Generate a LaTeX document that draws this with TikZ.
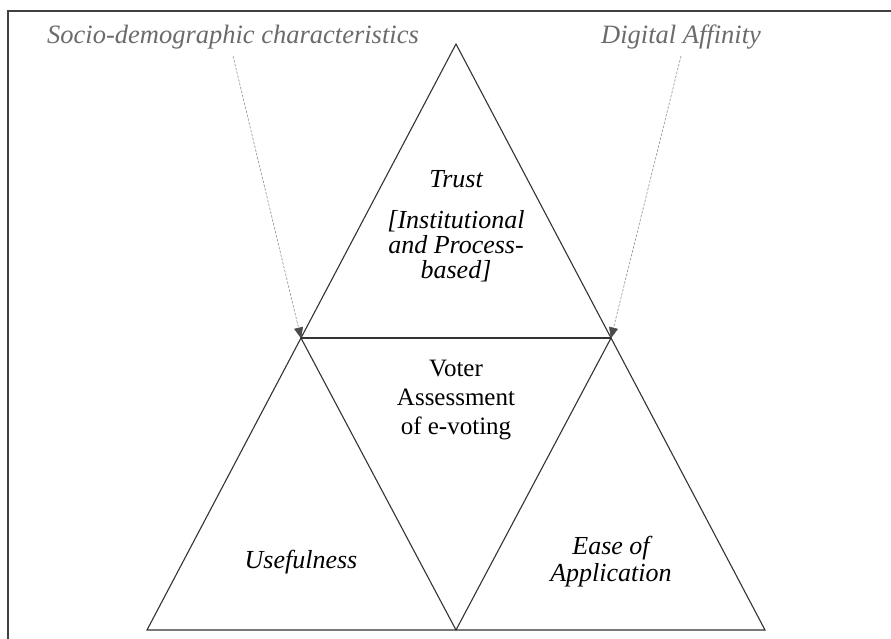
\documentclass[tikz,border=0pt]{standalone}
\usepackage{fontspec}
\setmainfont{Liberation Serif}
\usetikzlibrary{arrows.meta}
\begin{document}
\begin{tikzpicture}[x=1pt,y=-1pt,
  edge/.style={draw=black!80, line width=1.1pt, line join=miter, line cap=round},
  frame/.style={draw=black!75, line width=1.6pt},
  lbl/.style={text=black!58, font=\fontsize{26.5}{30}\selectfont\itshape, inner sep=0pt, anchor=base},
  txt/.style={font=\fontsize{25}{26}\selectfont, inner sep=0pt, anchor=base},
  itxt/.style={txt, font=\fontsize{26}{26}\selectfont\itshape},
  hint/.style={draw=black!45, line width=0.6pt, dash pattern=on 2.5pt off 1.5pt,
    -{Triangle[length=11pt,width=9pt,color=black!70,fill=black!70,sep=0pt]}, shorten >=-0.5pt}]

\useasboundingbox (0,0) rectangle (891,639);

% page frame (left and top rules)
\draw[frame] (8,639) -- (8,11) -- (891,11);

% vertices of the triangle arrangement
\coordinate (A)  at (456,44);
\coordinate (L)  at (301,338);
\coordinate (R)  at (611,338);
\coordinate (BL) at (147,630);
\coordinate (BM) at (456,630);
\coordinate (BR) at (765,630);

% outline and inner edges
\draw[edge] (BL) -- (A) -- (BR) -- cycle;
\draw[edge] (L) -- (R);
\draw[edge] (L) -- (BM) -- (R);

% influencing factors
\node[lbl] (socio) at (233,44) {Socio-demographic characteristics};
\node[lbl] (digit) at (681,44) {Digital Affinity};
\coordinate (s1) at (233,56);
\coordinate (s2) at (681,56);
\draw[hint] (s1) -- (L);
\draw[hint] (s2) -- (R);

% top triangle
\node[itxt] (trust) at (456,188) {Trust};
\node[itxt] (t1) at (456,229) {[Institutional};
\node[itxt] (t2) at (456,253) {and Process-};
\node[itxt] (t3) at (456,278) {based]};

% centre triangle
\node[txt] (v1) at (456,376) {Voter};
\node[txt] (v2) at (456,405) {Assessment};
\node[txt] (v3) at (456,434) {of e-voting};

% bottom triangles
\node[itxt] (use) at (301,568) {Usefulness};
\node[itxt] (e1) at (611,554) {Ease of};
\node[itxt] (e2) at (611,581) {Application};
\end{tikzpicture}
\end{document}
